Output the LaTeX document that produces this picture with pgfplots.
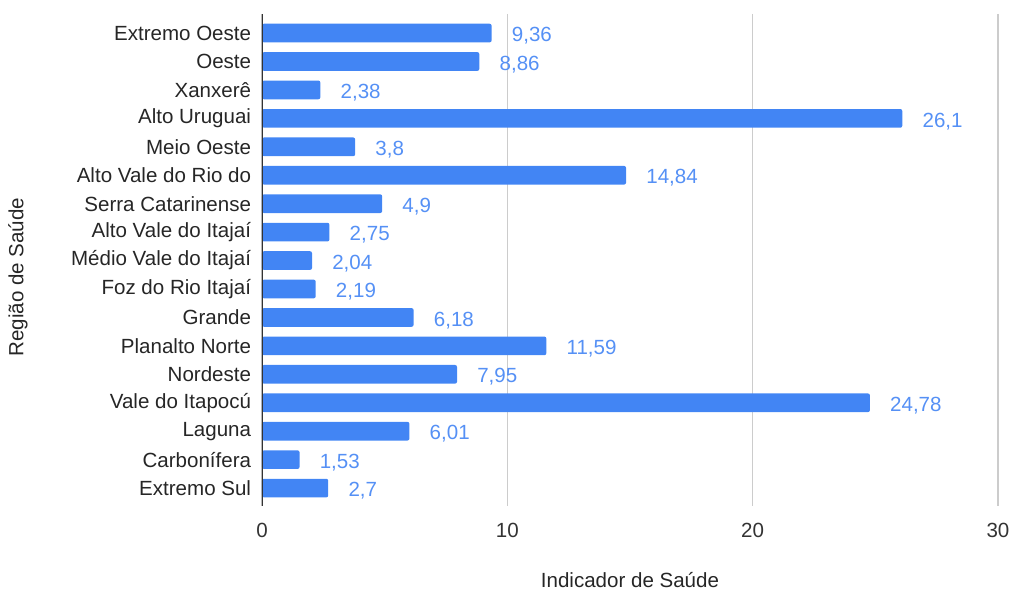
\documentclass[border=0pt]{standalone}
\usepackage{fontspec}
\setmainfont{Liberation Sans}
\usepackage{pgfplots}
\pgfplotsset{compat=1.18}
\definecolor{barblue}{HTML}{4285F4}
\definecolor{lblblue}{HTML}{5590F5}
\definecolor{gridgray}{HTML}{CCCCCC}

\begin{document}
\begin{tikzpicture}[font=\fontsize{15.4}{18}\selectfont]
\path[use as bounding box] (-196.5pt,-64.5pt) rectangle (561.75pt,379.5pt);
\begin{axis}[
    at={(0,0)}, anchor=south west,
    scale only axis, width=552pt, height=369pt,
    xbar, bar width=14pt, bar shift=0pt,
    xmin=0, xmax=30, xtick={0,10,20,30},
    ymin=-0.67, ymax=16.63, y dir=reverse,
    ytick={0,...,16},
    yticklabels={Extremo Oeste, Oeste, Xanxerê, Alto Uruguai, Meio Oeste,
        Alto Vale do Rio do, Serra Catarinense, Alto Vale do Itajaí,
        Médio Vale do Itajaí, Foz do Rio Itajaí, Grande, Planalto Norte,
        Nordeste, Vale do Itapocú, Laguna, Carbonífera, Extremo Sul},
    axis line style={draw=none},
    major tick length=0pt,
    xmajorgrids, grid style={gridgray, line width=0.8pt},
    /pgf/number format/assume math mode=true,
    xticklabel style={anchor=center, yshift=-18pt, text=black!80},
    yticklabel style={anchor=east, inner sep=0pt, xshift=-8pt, text=black!85},
    xlabel={Indicador de Saúde},
    ylabel={Região de Saúde},
    xlabel style={at={(rel axis cs:0.5,-0.151)}, anchor=center, inner sep=0pt, text=black!85},
    ylabel style={at={(rel axis cs:-0.3315,0.465)}, anchor=center, inner sep=0pt, text=black!85},
    nodes near coords={\pgfmathprintnumber[use comma, fixed, precision=2]{\pgfplotspointmeta}},
    nodes near coords style={anchor=base west, inner sep=0pt, xshift=15pt, yshift=-6.5pt, text=lblblue},
]
\addplot[fill=barblue, draw=none, rounded corners=1.5pt] coordinates {
 (9.36,0) (8.86,1) (2.38,2) (26.1,3) (3.8,4) (14.84,5) (4.9,6) (2.75,7)
 (2.04,8) (2.19,9) (6.18,10) (11.59,11) (7.95,12) (24.78,13) (6.01,14)
 (1.53,15) (2.7,16)};
\draw[black!80, line width=0.9pt] (rel axis cs:0,0) -- (rel axis cs:0,1);
\end{axis}
\end{tikzpicture}
\end{document}
